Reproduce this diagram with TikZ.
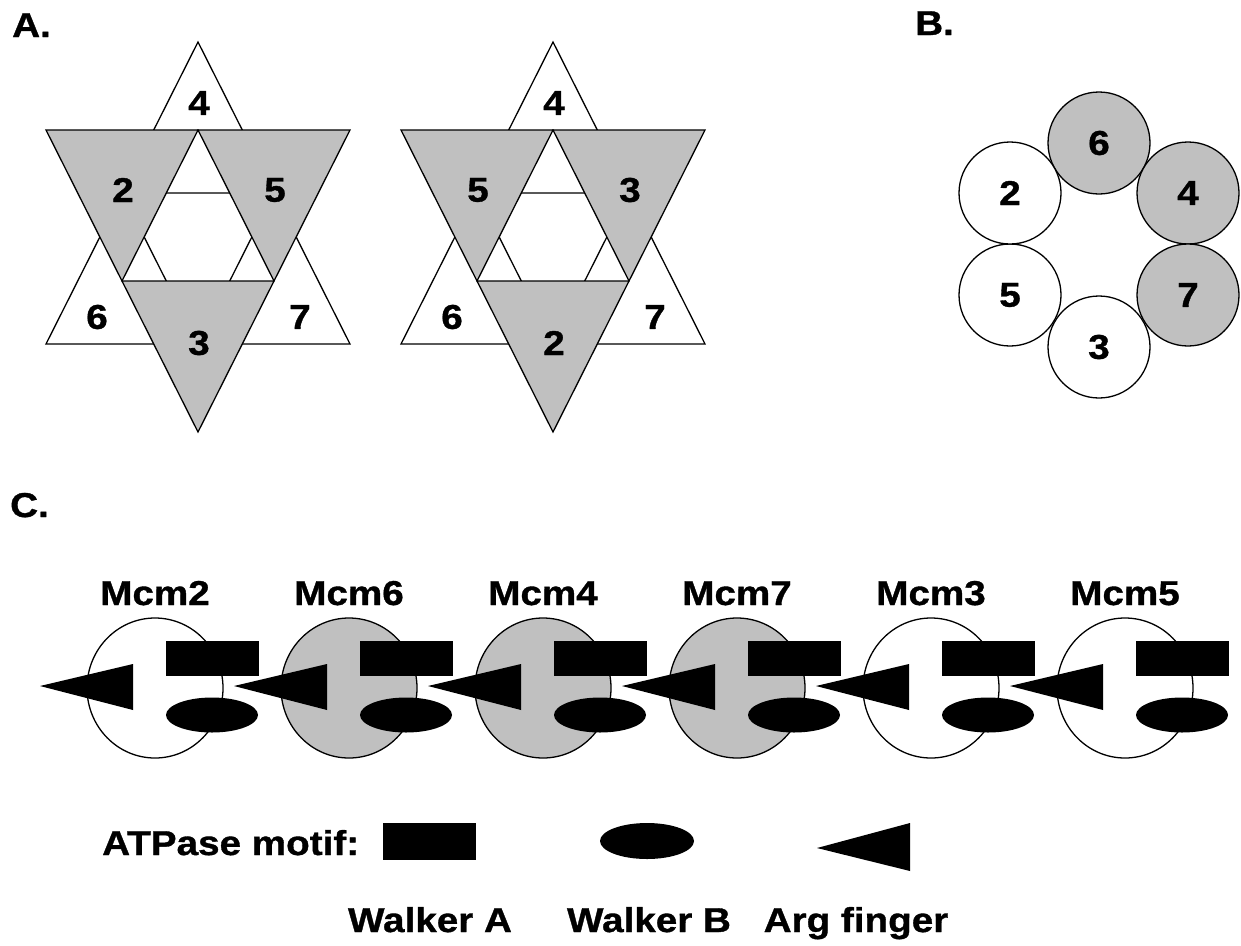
\documentclass[tikz,border=0pt]{standalone}
\usepackage{fontspec}
\setmainfont{Liberation Sans}[FakeStretch=1.12, BoldFeatures={FakeBold=1}]
\usetikzlibrary{shapes.geometric}
\definecolor{subunitgrey}{RGB}{192,192,192}

\begin{document}
\begin{tikzpicture}[x=1pt,y=-1pt,
  outline/.style={draw=black, line width=1.3pt, line join=miter},
  active/.style={outline, fill=subunitgrey},
  idle/.style={outline, fill=white},
  lbl/.style={font=\fontsize{34.5}{40}\selectfont\bfseries, inner sep=0pt},
  ringsub/.style={circle, outline, minimum size=102pt, inner sep=0pt,
                  font=\fontsize{34.5}{40}\selectfont\bfseries},
  subunit/.style={ellipse, outline, minimum width=136pt, minimum height=140pt, inner sep=0pt},
]
\useasboundingbox (0,0) rectangle (1241,945);

% ---------- panel letters ----------
\node[lbl, anchor=base west] (panelA) at (12,37) {A.};
\node[lbl, anchor=base west] (panelB) at (915,35) {B.};
\node[lbl, anchor=base west] (panelC) at (10,517) {C.};

% ---------- A: two interlocked six-triangle stars ----------
\foreach \ox/\sn/\a/\b/\c in {0/L/2/5/3, 355/R/5/3/2}{
  \begin{scope}[xshift=\ox]
    % upward (white) subunits
    \path[idle] (198,42) -- (274,193) -- (122,193) -- cycle;
    \path[idle] (122,193) -- (198,344) -- (46,344) -- cycle;
    \path[idle] (274,193) -- (350,344) -- (198,344) -- cycle;
    % downward (grey) subunits
    \path[active] (46,130) -- (198,130) -- (122,281) -- cycle;
    \path[active] (198,130) -- (350,130) -- (274,281) -- cycle;
    \path[active] (122,281) -- (274,281) -- (198,432) -- cycle;
    % subunit numbers
    \node[lbl] (star\sn-4) at (199,103) {4};
    \node[lbl] (star\sn-\a) at (123,190) {\a};
    \node[lbl] (star\sn-\b) at (275,190) {\b};
    \node[lbl] (star\sn-6) at (97,317) {6};
    \node[lbl] (star\sn-\c) at (199,343) {\c};
    \node[lbl] (star\sn-7) at (300,317) {7};
  \end{scope}
}

% ---------- B: hexameric ring ----------
\node[ringsub, fill=subunitgrey] (ring6) at (1099,143) {6};
\node[ringsub, fill=subunitgrey] (ring4) at (1188,193) {4};
\node[ringsub, fill=subunitgrey] (ring7) at (1188,295) {7};
\node[ringsub, fill=white] (ring3) at (1099,347) {3};
\node[ringsub, fill=white] (ring5) at (1010,295) {5};
\node[ringsub, fill=white] (ring2) at (1010,193) {2};

% ---------- C: linear arrangement of subunits with ATPase motifs ----------
\foreach \i/\nm/\fc in {0/2/white, 1/6/subunitgrey, 2/4/subunitgrey,
                        3/7/subunitgrey, 4/3/white, 5/5/white}{
  \begin{scope}[xshift=\i*194]
    \node[subunit, fill=\fc] (mcm\nm) at (155,688) {};
    \node[lbl, anchor=base] (mcm\nm-name) at (155,605) {Mcm\nm};
    % Walker A
    \fill (166,641) rectangle (259,676);
    % Walker B
    \fill (212,715) ellipse [x radius=46, y radius=17.5];
    % Arg finger
    \fill (40,686) -- (133,664) -- (133,710) -- cycle;
  \end{scope}
}

% ---------- legend ----------
\node[lbl, anchor=base west] (motiflabel) at (102,855) {ATPase motif:};
\fill (383,823) rectangle (476,860);
\fill (647,841) ellipse [x radius=47, y radius=18];
\fill (817,848) -- (910,823) -- (910,871) -- cycle;
\node[lbl, anchor=base] (walkerA) at (430,932) {Walker A};
\node[lbl, anchor=base] (walkerB) at (649,932) {Walker B};
\node[lbl, anchor=base] (argfinger) at (856,932) {Arg finger};
\end{tikzpicture}
\end{document}
